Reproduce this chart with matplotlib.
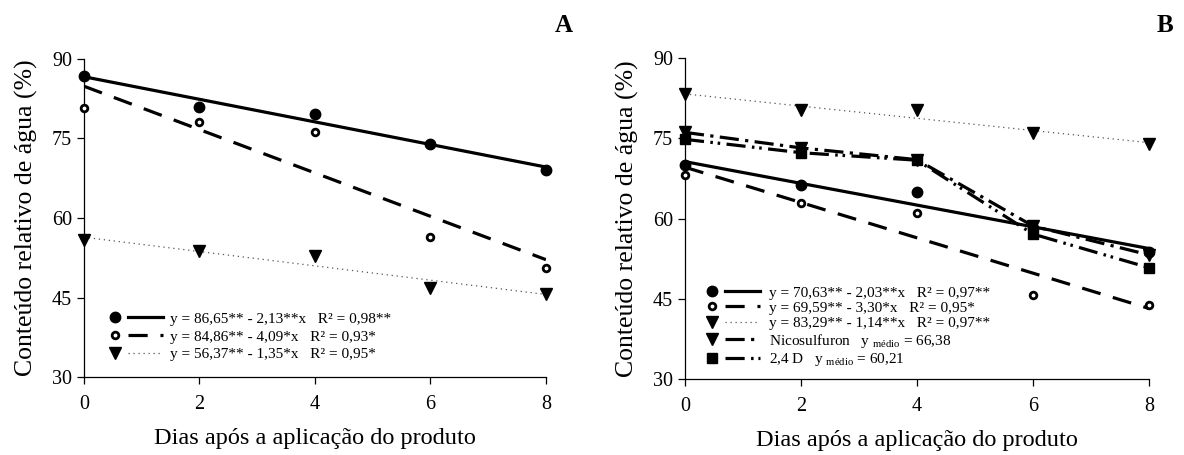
import matplotlib
matplotlib.use("Agg")
import matplotlib.pyplot as plt
from matplotlib.lines import Line2D
from matplotlib.legend_handler import HandlerTuple

plt.rcParams['font.family'] = ['Liberation Serif', 'DejaVu Serif']
plt.rcParams['mathtext.fontset'] = 'custom'
plt.rcParams['mathtext.rm'] = 'Liberation Serif'
plt.rcParams['mathtext.it'] = 'Liberation Serif:italic'

# data
dias = [0, 2, 4, 6, 8]

# painel A
a_cheio = [86.8, 81.0, 79.7, 74.0, 69.0]
a_aberto = [80.7, 78.2, 76.3, 56.5, 50.6]
a_triang = [55.8, 53.8, 52.8, 46.7, 45.7]
a_coef = [(86.65, -2.13), (84.86, -4.09), (56.37, -1.35)]
a_labels = ["y = 86,65** - 2,13**x   R² = 0,98**",
            "y = 84,86** - 4,09*x   R² = 0,93*",
            "y = 56,37** - 1,35*x   R² = 0,95*"]

# painel B
b_cheio = [70.0, 66.3, 65.0, 58.3, 53.8]
b_aberto = [68.2, 62.9, 61.0, 45.7, 43.8]
b_triang = [83.3, 80.3, 80.2, 75.9, 74.0]
b_nico = [76.1, 73.2, 71.0, 58.6, 53.2]
b_24d = [74.8, 72.3, 70.9, 57.1, 50.8]
b_coef = [(70.63, -2.03), (69.59, -3.30), (83.29, -1.14)]
b_labels = ["y = 70,63** - 2,03**x   R² = 0,97**",
            "y = 69,59** - 3,30*x   R² = 0,95*",
            "y = 83,29** - 1,14**x   R² = 0,97**",
            r"Nicosulfuron   y $_{\mathrm{médio}}$ = 66,38",
            r"2,4 D   y $_{\mathrm{médio}}$ = 60,21"]

x_fit = [0, 8]

sty_cheio = dict(marker='o', color='black', ms=7.5, ls='none')
sty_aberto = dict(marker='o', mfc='white', mec='black', mew=2, ms=4.8, ls='none')
sty_tri = dict(marker='v', color='black', ms=8, ls='none')
sty_sq = dict(marker='s', color='black', ms=6.5, ls='none')

ln_solid = dict(color='black', lw=2.3, ls='-')
ln_dash = dict(color='black', lw=2.3, ls=(0, (6, 4)))
ln_dot = dict(color='#555555', lw=0.9, ls=(0, (1, 3)))
ln_nico = dict(color='black', lw=2.3, ls=(0, (6, 2, 1, 2)))
ln_24d = dict(color='black', lw=2.3, ls=(0, (6, 2, 0.8, 1.5, 0.8, 2)))

fig = plt.figure(figsize=(11.84, 4.55), dpi=100)
axA = fig.add_axes([0.0709, 0.1714, 0.3902, 0.699])
axB = fig.add_axes([0.5785, 0.167, 0.3919, 0.7055])


def fit(c):
    return [c[0] + c[1] * x for x in x_fit]


def style_ax(ax):
    ax.set_xlim(0, 8)
    ax.set_ylim(30, 90)
    ax.set_xticks(dias)
    ax.set_yticks([30, 45, 60, 75, 90])
    for s in ['top', 'right']:
        ax.spines[s].set_visible(False)
    for s in ['left', 'bottom']:
        ax.spines[s].set_linewidth(0.9)
    ax.tick_params(direction='out', length=5, width=0.9, labelsize=14.5)
    ax.tick_params(axis='x', pad=8)
    ax.set_xlabel("Dias após a aplicação do produto", fontsize=17.5, labelpad=10)
    ax.set_ylabel("Conteúdo relativo de água (%)", fontsize=18.5, labelpad=10)


# painel A
axA.plot(x_fit, fit(a_coef[0]), **ln_solid)
axA.plot(x_fit, fit(a_coef[1]), **ln_dash)
axA.plot(x_fit, fit(a_coef[2]), **ln_dot)
axA.plot(dias, a_cheio, clip_on=False, zorder=5, **sty_cheio)
axA.plot(dias, a_aberto, clip_on=False, zorder=5, **sty_aberto)
axA.plot(dias, a_triang, clip_on=False, zorder=5, **sty_tri)
style_ax(axA)
handlesA = [(Line2D([], [], **sty_cheio), Line2D([], [], **ln_solid)),
            (Line2D([], [], **sty_aberto), Line2D([], [], **ln_dash)),
            (Line2D([], [], **sty_tri), Line2D([], [], **ln_dot))]
axA.legend(handlesA, a_labels, handler_map={tuple: HandlerTuple(ndivide=None, pad=-0.25)},
           loc='lower left', bbox_to_anchor=(0.0165, 0.03), frameon=False, fontsize=11,
           handlelength=4.26, handletextpad=0.5, labelspacing=0.27, borderaxespad=0)
fig.text(0.476, 0.945, "A", fontsize=18, fontweight='bold', ha='center', va='center')

# painel B
axB.plot(x_fit, fit(b_coef[0]), **ln_solid)
axB.plot(x_fit, fit(b_coef[1]), **ln_dash)
axB.plot(x_fit, fit(b_coef[2]), **ln_dot)
axB.plot(dias, b_nico, **ln_nico)
axB.plot(dias, b_24d, **ln_24d)
axB.plot(dias, b_cheio, clip_on=False, zorder=5, **sty_cheio)
axB.plot(dias, b_aberto, clip_on=False, zorder=5, **sty_aberto)
axB.plot(dias, b_triang, clip_on=False, zorder=5, **sty_tri)
axB.plot(dias, b_nico, clip_on=False, zorder=5, **sty_tri)
axB.plot(dias, b_24d, clip_on=False, zorder=5, **sty_sq)
style_ax(axB)
handlesB = [(Line2D([], [], **sty_cheio), Line2D([], [], **ln_solid)),
            (Line2D([], [], **sty_aberto), Line2D([], [], **ln_dash)),
            (Line2D([], [], **sty_tri), Line2D([], [], **ln_dot)),
            (Line2D([], [], **sty_tri), Line2D([], [], **ln_nico)),
            (Line2D([], [], **sty_sq), Line2D([], [], **ln_24d))]
axB.legend(handlesB, b_labels, handler_map={tuple: HandlerTuple(ndivide=None, pad=-0.25)},
           loc='lower left', bbox_to_anchor=(0.008, 0.015), frameon=False, fontsize=11,
           handlelength=4.26, handletextpad=0.6, labelspacing=0.1, borderaxespad=0)
fig.text(0.984, 0.945, "B", fontsize=18, fontweight='bold', ha='center', va='center')

fig.savefig("out.png", dpi=100)
